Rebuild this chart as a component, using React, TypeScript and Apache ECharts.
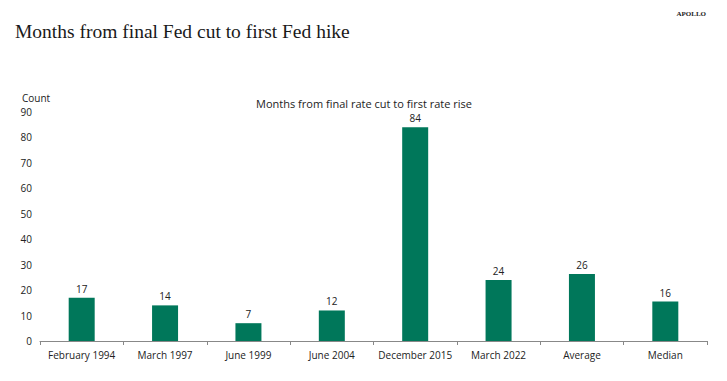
import React, { useEffect, useRef } from "react";
import * as echarts from "echarts";

const categories = ["February 1994", "March 1997", "June 1999", "June 2004", "December 2015", "March 2022", "Average", "Median"];
const values = [17, 14, 7, 12, 84, 24, 26.3, 15.5];
const yTicks = [0, 10, 20, 30, 40, 50, 60, 70, 80, 90];

const FONT = "'Open Sans', 'Noto Sans', sans-serif";

export default function App() {
  const ref = useRef<HTMLDivElement>(null);
  useEffect(() => {
    if (!ref.current) return;
    const chart = echarts.init(ref.current, null, { renderer: "svg" });
    chart.setOption({
      animation: false,
      backgroundColor: "#ffffff",
      title: [
        {
          text: "Months from final Fed cut to first Fed hike",
          left: 10,
          top: 16,
          textStyle: { fontFamily: "'Liberation Serif', serif", fontWeight: "normal", fontSize: 19.5, color: "#1a1a1a" },
        },
        {
          text: "APOLLO",
          right: 16,
          top: 5,
          textStyle: { fontFamily: "'Liberation Serif', serif", fontWeight: "bold", fontSize: 7, color: "#222" },
        },
        {
          text: "Months from final rate cut to first rate rise",
          left: 359,
          textAlign: "center",
          top: 93,
          textStyle: { fontFamily: FONT, fontWeight: "normal", fontSize: 11, color: "#222" },
        },
      ],
      grid: { left: 40, right: 20, top: 112, bottom: 40, containLabel: false },
      xAxis: {
        type: "category",
        data: categories,
        axisLine: { show: true, lineStyle: { color: "#888", width: 1 } },
        axisTick: { show: true, alignWithLabel: false, length: 4, lineStyle: { color: "#888" } },
        axisLabel: { fontFamily: FONT, fontSize: 10, color: "#222", margin: 9, interval: 0 },
      },
      yAxis: {
        type: "value",
        min: 0,
        max: 90,
        interval: 10,
        name: "Count",
        nameLocation: "end",
        nameGap: 9,
        nameTextStyle: { fontFamily: FONT, fontSize: 10, color: "#222", align: "left", padding: [0, 0, 0, -18] },
        axisLine: { show: false },
        axisTick: { show: false },
        splitLine: { show: false },
        axisLabel: {
          fontFamily: FONT,
          fontSize: 10,
          color: "#222",
          margin: 8,
          formatter: (v: number) => (yTicks.includes(v) ? String(v) : ""),
        },
      },
      series: [
        {
          type: "bar",
          data: values,
          barWidth: 26,
          itemStyle: { color: "#00775a" },
          label: {
            show: true,
            position: "top",
            distance: 4,
            fontFamily: FONT,
            fontSize: 10,
            color: "#222",
            formatter: (p: any) => String(Math.round(p.value)),
          },
        },
      ],
    });
    return () => chart.dispose();
  }, []);
  return <div ref={ref} style={{ width: 727, height: 381, position: "absolute", left: 0, top: 0 }} />;
}
